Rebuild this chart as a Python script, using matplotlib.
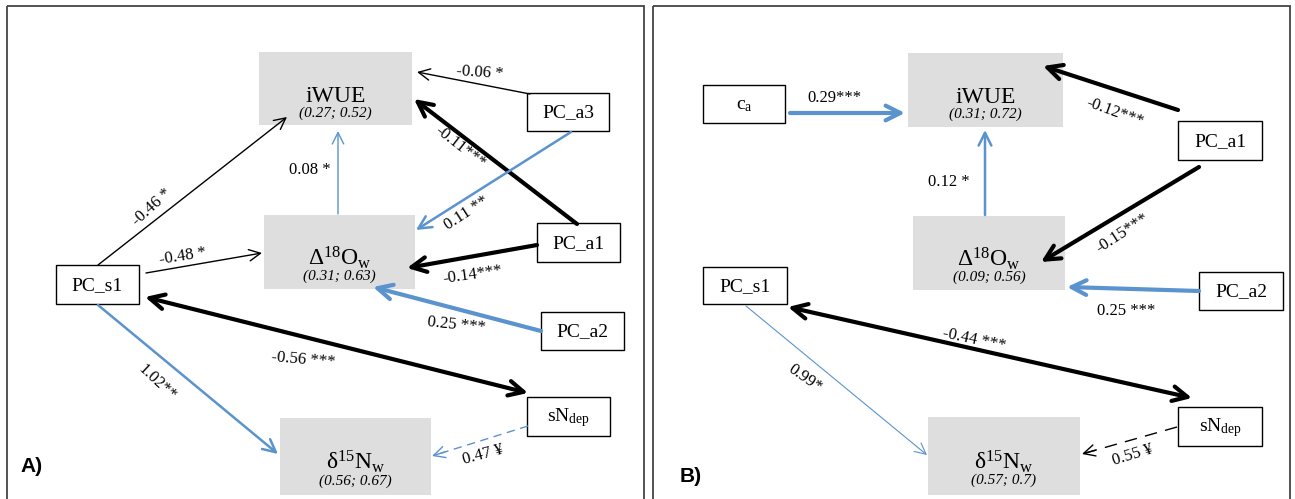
import matplotlib
matplotlib.use("Agg")
import matplotlib.pyplot as plt
import numpy as np
from matplotlib.patches import Rectangle, FancyArrowPatch

plt.rcParams['font.family'] = ['Liberation Serif', 'DejaVu Serif']
plt.rcParams['mathtext.fontset'] = 'custom'
plt.rcParams['mathtext.rm'] = 'Liberation Serif'
plt.rcParams['mathtext.it'] = 'Liberation Serif:italic'

# ---------------- data ----------------
panels = ["A)", "B)"]

# response variables (grey boxes) and their R2 (marginal; conditional)
responses = ["iWUE", "D18O", "d15N"]
response_labels = {"iWUE": "iWUE",
                   "D18O": r"$\mathrm{Δ^{18}O_{w}}$",
                   "d15N": r"$\mathrm{δ^{15}N_{w}}$"}
r2_A = {"iWUE": "(0.27; 0.52)", "D18O": "(0.31; 0.63)", "d15N": "(0.56; 0.67)"}
r2_B = {"iWUE": "(0.31; 0.72)", "D18O": "(0.09; 0.56)", "d15N": "(0.57; 0.7)"}

# predictor variables (white boxes)
predictors_A = ["PC_a3", "PC_a1", "PC_a2", "PC_s1", "sNdep"]
predictors_B = ["ca", "PC_a1", "PC_a2", "PC_s1", "sNdep"]
predictor_labels = {"PC_a3": "PC_a3", "PC_a1": "PC_a1", "PC_a2": "PC_a2",
                    "PC_s1": "PC_s1", "sNdep": r"$\mathrm{sN_{dep}}$",
                    "ca": r"$\mathrm{c_{a}}$"}

# paths: (from, to, coefficient label, sign, strength, kind)
paths_A = [
    ("PC_a3", "iWUE", "-0.06 *", "neg", "weak", "solid"),
    ("PC_a1", "iWUE", "-0.11***", "neg", "strong", "solid"),
    ("PC_a3", "D18O", "0.11 **", "pos", "mid", "solid"),
    ("D18O", "iWUE", "0.08 *", "pos", "weak", "solid"),
    ("PC_s1", "iWUE", "-0.46 *", "neg", "weak", "solid"),
    ("PC_s1", "D18O", "-0.48 *", "neg", "weak", "solid"),
    ("PC_a1", "D18O", "-0.14***", "neg", "strong", "solid"),
    ("PC_a2", "D18O", "0.25 ***", "pos", "strong", "solid"),
    ("PC_s1", "sNdep", "-0.56 ***", "neg", "strong", "double"),
    ("PC_s1", "d15N", "1.02**", "pos", "mid", "solid"),
    ("sNdep", "d15N", "0.47 ¥", "pos", "weak", "dashed"),
]
paths_B = [
    ("ca", "iWUE", "0.29***", "pos", "strong", "solid"),
    ("PC_a1", "iWUE", "-0.12***", "neg", "strong", "solid"),
    ("D18O", "iWUE", "0.12 *", "pos", "mid", "solid"),
    ("PC_a1", "D18O", "-0.15***", "neg", "strong", "solid"),
    ("PC_a2", "D18O", "0.25 ***", "pos", "strong", "solid"),
    ("PC_s1", "sNdep", "-0.44 ***", "neg", "strong", "double"),
    ("PC_s1", "d15N", "0.99*", "pos", "thin", "solid"),
    ("sNdep", "d15N", "0.55 ¥", "neg", "weak", "longdash"),
]

# ---------------- layout (pixels) ----------------
frames = [(7, 6, 644, 510), (653, 6, 1290, 510)]
panel_letter_pos = [(20, 467), (680, 477)]

boxes_A = {"iWUE": (259, 52, 412, 125), "D18O": (264, 215, 415, 289),
           "d15N": (280, 418, 431, 495),
           "PC_a3": (527, 93, 609, 131), "PC_a1": (537, 223, 620, 262),
           "PC_a2": (541, 312, 624, 350), "PC_s1": (56, 265, 139, 304),
           "sNdep": (527, 397, 610, 436)}
boxes_B = {"iWUE": (908, 53, 1063, 127), "D18O": (913, 216, 1065, 290),
           "d15N": (928, 417, 1080, 495),
           "ca": (703, 85, 785, 123), "PC_a1": (1178, 121, 1262, 160),
           "PC_a2": (1199, 272, 1283, 310), "PC_s1": (703, 267, 787, 304),
           "sNdep": (1178, 407, 1262, 446)}

# (start, end, label position, label rotation)
geom_A = [
    ((530, 94), (417, 72), (480, 73), -4),
    ((577, 224), (414, 99), (460, 147), -38),
    ((571, 132), (416, 230), (467, 213), 33),
    ((338, 214), (338, 131), (310, 170), 0),
    ((98, 265), (287, 117), (152, 207), 42),
    ((146, 273), (262, 253), (183, 256), 9),
    ((537, 245), (407, 268), (473, 275), 8),
    ((541, 331), (373, 287), (456, 325), -6),
    ((145, 297), (528, 393), (303, 360), -5),
    ((98, 305), (278, 454), (157, 383), -43),
    ((528, 426), (432, 456), (483, 455), 15),
]
geom_B = [
    ((790, 113), (905, 113), (834, 98), 0),
    ((1178, 110), (1043, 66), (1115, 112), -20),
    ((985, 215), (985, 130), (949, 182), 0),
    ((1199, 167), (1041, 262), (1122, 233), 33),
    ((1199, 291), (1067, 287), (1126, 311), 0),
    ((788, 307), (1192, 398), (974, 340), -12),
    ((746, 306), (927, 455), (805, 378), -35),
    ((1177, 427), (1082, 454), (1133, 455), 17),
]

colors = {"pos": "#5b93cf", "neg": "#000000"}
widths = {"strong": 3.0, "mid": 1.8, "weak": 1.0, "thin": 0.8}
dashes = {"dashed": (0, (6, 4)), "longdash": (0, (9, 6))}

fig = plt.figure(figsize=(12.95, 4.99), dpi=100)
ax = fig.add_axes([0, 0, 1, 1])
ax.set_xlim(0, 1295)
ax.set_ylim(499, 0)
ax.axis("off")

for (x0, y0, x1, y1) in frames:
    ax.add_patch(Rectangle((x0, y0), x1 - x0, y1 - y0, fill=False,
                           ec="#444444", lw=1.3, zorder=1))


def draw_panel(boxes, r2, predictors, paths, geom, letter, lpos):
    for name in responses:
        x0, y0, x1, y1 = boxes[name]
        ax.add_patch(Rectangle((x0, y0), x1 - x0, y1 - y0, fc="#dedede",
                               ec="none", zorder=2))
        cx, cy = (x0 + x1) / 2, (y0 + y1) / 2
        ax.text(cx, cy + 13, response_labels[name], fontsize=17,
                ha="center", va="baseline", zorder=5)
        ax.text(cx, cy + 28, r2[name], fontsize=11, style="italic",
                ha="center", va="baseline", zorder=5)
    for name in predictors:
        x0, y0, x1, y1 = boxes[name]
        ax.add_patch(Rectangle((x0, y0), x1 - x0, y1 - y0, fc="white",
                               ec="black", lw=1.0, zorder=2))
        ax.text((x0 + x1) / 2, (y0 + y1) / 2 + 1, predictor_labels[name],
                fontsize=14, ha="center", va="center", zorder=5)
    for (src, dst, lab, sign, strength, kind), (p0, p1, tp, rot) in zip(paths, geom):
        lw = widths[strength]
        col = colors[sign]
        hl = 7 + lw * 1.2
        hw = 3.5 + lw * 0.6
        style = ("<->" if kind == "double" else "->") + \
            f",head_length={hl},head_width={hw}"
        if kind in dashes:
            a, b = np.array(p0, float), np.array(p1, float)
            u = (b - a) / np.hypot(*(b - a))
            ax.plot([a[0], b[0] - 2 * u[0]], [a[1], b[1] - 2 * u[1]],
                    color=col, lw=lw, linestyle=dashes[kind], zorder=4)
            head_start = b - 14 * u
            arr = FancyArrowPatch(tuple(head_start), p1, arrowstyle=style,
                                  mutation_scale=1, lw=lw, color=col,
                                  shrinkA=0, shrinkB=0, zorder=4)
        else:
            arr = FancyArrowPatch(p0, p1, arrowstyle=style, mutation_scale=1,
                                  lw=lw, color=col,
                                  shrinkA=0, shrinkB=0, zorder=4)
        ax.add_patch(arr)
        ax.text(tp[0], tp[1], lab, fontsize=12, rotation=rot,
                ha="center", va="center", rotation_mode="anchor", zorder=5)
    ax.text(lpos[0], lpos[1], letter, fontsize=15, fontweight="bold",
            family="Liberation Sans", ha="left", va="center", zorder=5)


draw_panel(boxes_A, r2_A, predictors_A, paths_A, geom_A, panels[0],
           panel_letter_pos[0])
draw_panel(boxes_B, r2_B, predictors_B, paths_B, geom_B, panels[1],
           panel_letter_pos[1])

fig.savefig("out.png", dpi=100)
